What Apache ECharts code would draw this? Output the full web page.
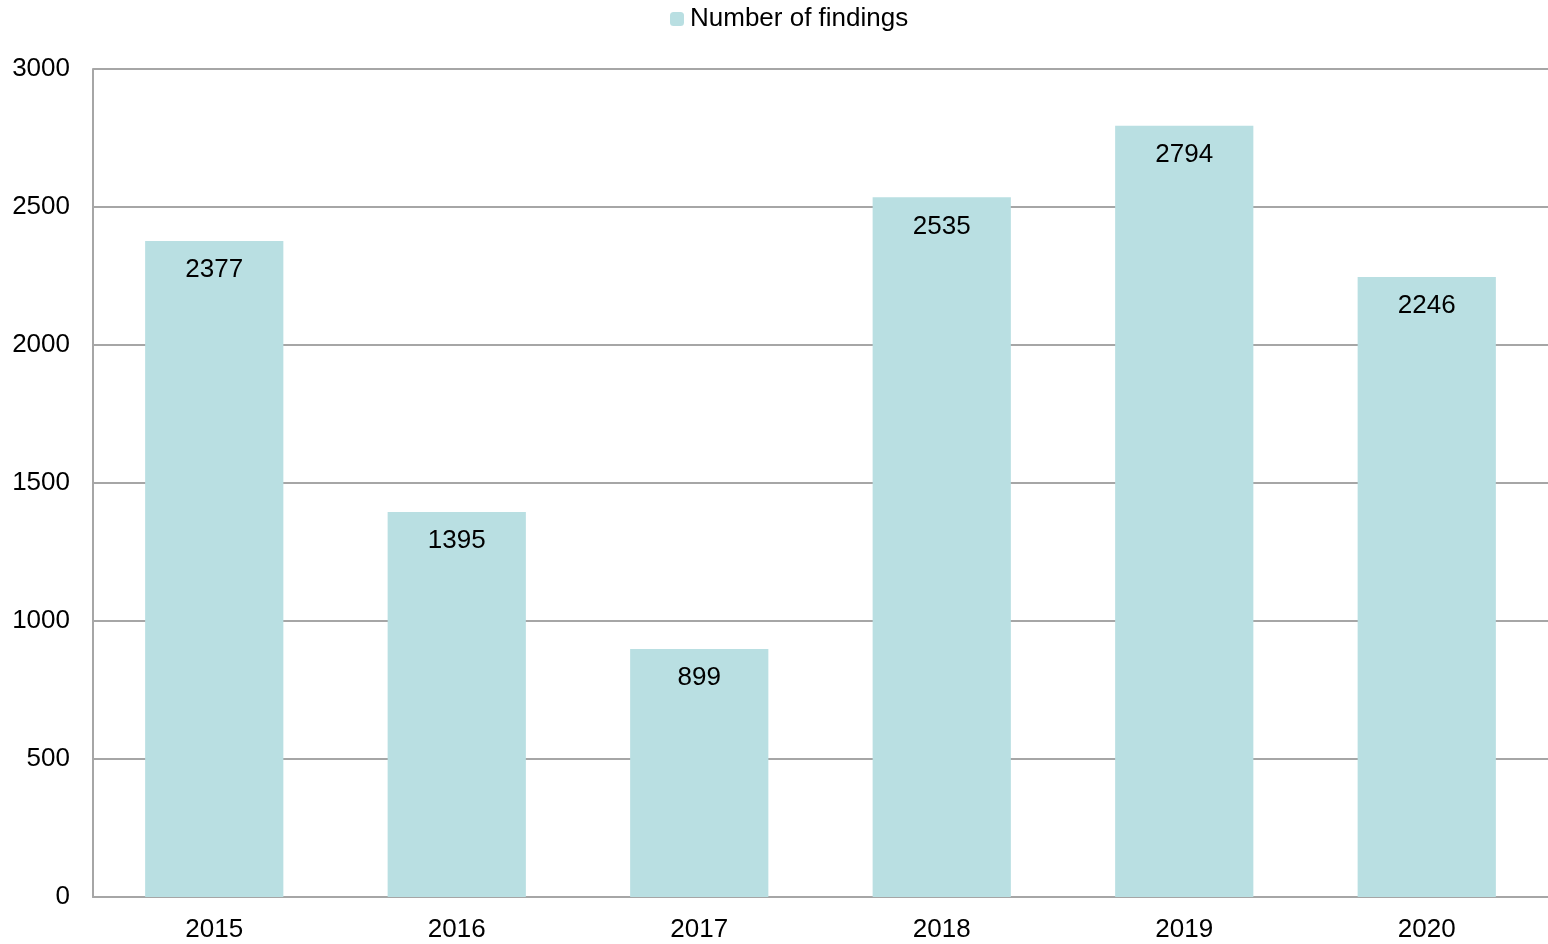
<!DOCTYPE html>
<html>
<head>
<meta charset="utf-8">
<script src="https://cdn.jsdelivr.net/npm/echarts@6/dist/echarts.min.js"></script>
<style>
  html, body { margin: 0; padding: 0; background: #fff; }
  #main { width: 1548px; height: 944px; }
</style>
</head>
<body>
<div id="main"></div>
<script>
// data
const years = ['2015', '2016', '2017', '2018', '2019', '2020']
const findings = [2377, 1395, 899, 2535, 2794, 2246]
const seriesName = 'Number of findings'

const font = 'Liberation Sans, Arial, sans-serif'
const gridColor = '#a6a6a6'

const myChart = echarts.init(document.getElementById('main'))
myChart.setOption({
  animation: false,
  backgroundColor: '#fff',
  textStyle: { fontFamily: font },
  legend: {
    top: 1,
    left: 665,
    itemWidth: 14,
    itemHeight: 14,
    itemGap: 4,
    textStyle: { fontSize: 26, color: '#000', fontFamily: font, padding: [0, 0, 0, 1] },
    data: [seriesName]
  },
  grid: { left: 93, right: 0, top: 69, bottom: 47 },
  xAxis: {
    type: 'category',
    data: years,
    axisLine: { lineStyle: { color: gridColor, width: 2 } },
    axisTick: { show: false },
    axisLabel: { fontSize: 26, color: '#000', margin: 20, fontFamily: font }
  },
  yAxis: {
    type: 'value',
    min: 0,
    max: 3000,
    interval: 500,
    axisLine: { show: true, lineStyle: { color: gridColor, width: 2 } },
    axisTick: { show: false },
    splitLine: { lineStyle: { color: gridColor, width: 2 } },
    axisLabel: {
      fontSize: 26,
      color: '#000',
      margin: 23,
      fontFamily: font,
      formatter: v => String(v)
    }
  },
  series: [
    {
      name: seriesName,
      type: 'bar',
      data: findings,
      barWidth: '57%',
      itemStyle: { color: '#b9dfe2' },
      label: {
        show: true,
        position: 'insideTop',
        distance: 16,
        fontSize: 26,
        color: '#000',
        fontFamily: font
      }
    }
  ]
})
</script>
</body>
</html>
